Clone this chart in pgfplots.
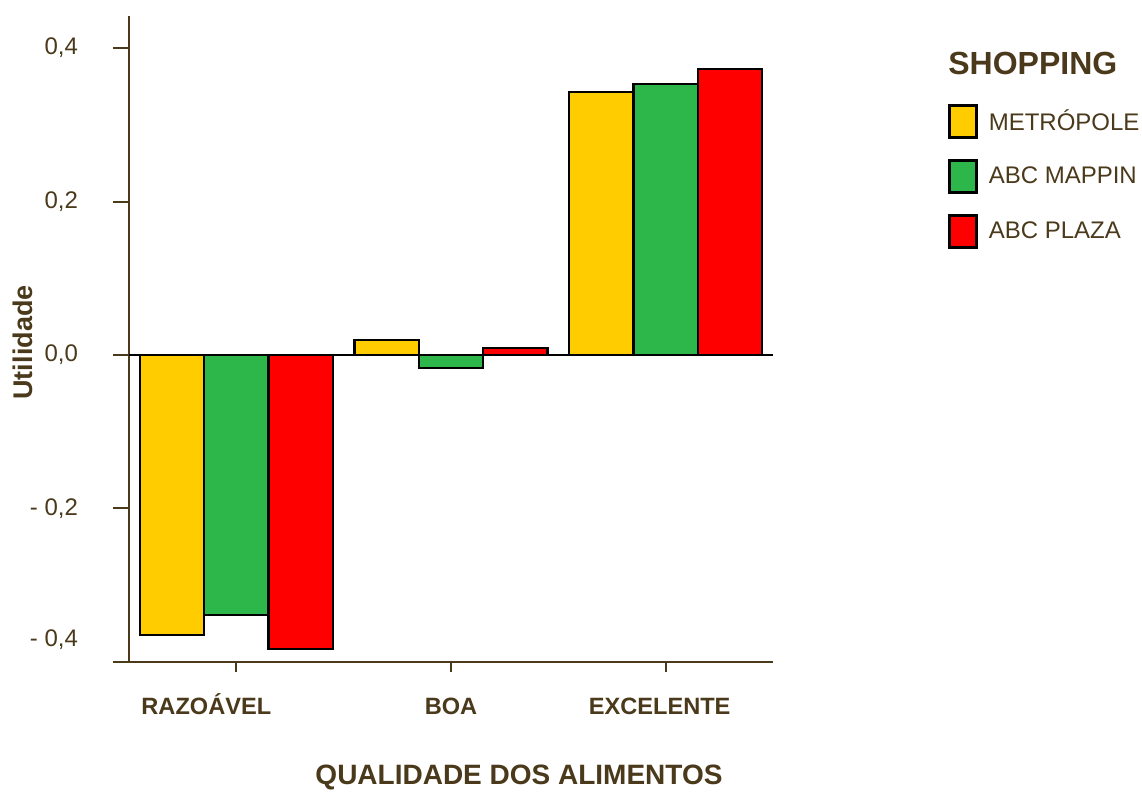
\documentclass[border=0pt]{standalone}
\usepackage{pgfplots}
\pgfplotsset{compat=1.18}
\usepackage{fontspec}
\setmainfont{Liberation Sans}
\definecolor{txt}{RGB}{74,57,26}
\definecolor{cyel}{RGB}{255,204,0}
\definecolor{cgrn}{RGB}{45,183,74}
\definecolor{cred}{RGB}{255,0,0}
\pgfplotsset{mylegend/.style={legend image code/.code={\draw[##1, line width=1.2pt] (0pt,-8pt) rectangle (13.5pt,8pt);}}}
\begin{document}
\begin{tikzpicture}
\useasboundingbox (-64.5pt,-65pt) rectangle (506.5pt,331pt);
\begin{axis}[
  scale only axis, width=322pt, height=323pt,
  xmin=-0.5, xmax=2.5, ymin=-0.4, ymax=0.4417,
  axis lines=left,
  axis line style={-, txt, line width=1pt},
  tick align=outside,
  tick style={txt, line width=1pt},
  major tick length=8pt,
  xtick style={/pgfplots/major tick length=5pt},
  xtick={0,1,2},
  xticklabels={{RAZOÁVEL\hspace*{30pt}},{BOA},{EXCELENTE\hspace*{6pt}}},
  ytick={-0.4,-0.2,0,0.2,0.4},
  yticklabels={{\raisebox{24pt}{- 0,4}},{- 0,2},{0,0},{0,2},{0,4}},
  /pgf/number format/assume math mode=true,
  tick label style={text=txt},
  xticklabel style={font=\bfseries\fontsize{11.8}{13}\selectfont, text height=9pt, text depth=2pt, yshift=-5.5pt},
  yticklabel style={font=\fontsize{12}{14}\selectfont, xshift=-14pt},
  xlabel={QUALIDADE DOS ALIMENTOS},
  xlabel style={at={(axis description cs:0.6056,-0.179)}, anchor=center, font=\bfseries\fontsize{14}{16}\selectfont, text=txt},
  ylabel={Utilidade},
  ylabel style={at={(axis description cs:-0.1646,0.4946)}, anchor=center, font=\bfseries\fontsize{13.5}{15}\selectfont, text=txt},
  legend style={draw=none, fill=none, at={(axis description cs:1.2717,0.864)}, anchor=north west, inner sep=0pt, row sep=10.3pt, font=\fontsize{12}{14}\selectfont, text=txt, cells={anchor=west}, /tikz/every odd column/.append style={column sep=3.5pt}},
  clip=false,
]
\addplot[ybar, bar width=0.3, bar shift=-0.3, fill=cyel, draw=black, line width=1.2pt, mylegend] coordinates {(0,-0.365) (1,0.0195) (2,0.343)};
\addlegendentry{METRÓPOLE}
\addplot[ybar, bar width=0.3, bar shift=0, fill=cgrn, draw=black, line width=1.2pt, mylegend] coordinates {(0,-0.339) (1,-0.017) (2,0.353)};
\addlegendentry{ABC MAPPIN}
\addplot[ybar, bar width=0.3, bar shift=0.3, fill=cred, draw=black, line width=1.2pt, mylegend] coordinates {(0,-0.383) (1,0.009) (2,0.373)};
\addlegendentry{ABC PLAZA}
\draw[black, line width=1pt] (axis cs:-0.5,0) -- (axis cs:2.5,0);
\node[anchor=west, font=\bfseries\fontsize{16}{18}\selectfont, text=txt, inner sep=0pt] at (axis description cs:1.2717,0.927) {SHOPPING};
\end{axis}
\end{tikzpicture}
\end{document}
